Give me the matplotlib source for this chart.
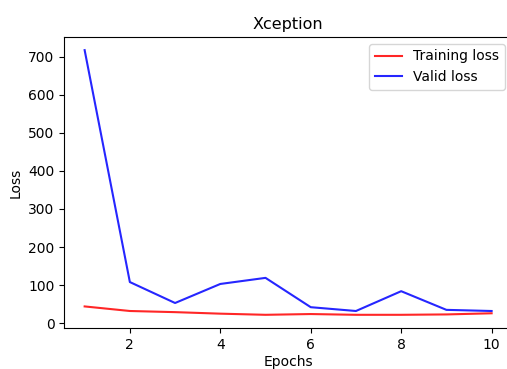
import matplotlib
matplotlib.use("Agg")
import matplotlib.pyplot as plt

epochs = [1, 2, 3, 4, 5, 6, 7, 8, 9, 10]
training_loss = [44, 32, 29, 25, 22, 24, 22, 22, 23, 26]
valid_loss = [717, 108, 53, 103, 119, 42, 32, 84, 35, 32]

fig = plt.figure(figsize=(5.07, 3.69), dpi=100)
ax = fig.add_axes([0.1268, 0.111, 0.883, 0.789])

ax.plot(epochs, training_loss, color="r", alpha=0.85, linewidth=1.5, label="Training loss")
ax.plot(epochs, valid_loss, color="b", alpha=0.85, linewidth=1.5, label="Valid loss")

ax.set_title("Xception", fontsize=11.5)
ax.set_xlabel("Epochs", fontsize=10, labelpad=2)
ax.set_ylabel("Loss", fontsize=10)
ax.tick_params(labelsize=10)
ax.legend(loc="upper right", fontsize=10)

fig.savefig("out.png", dpi=100)
